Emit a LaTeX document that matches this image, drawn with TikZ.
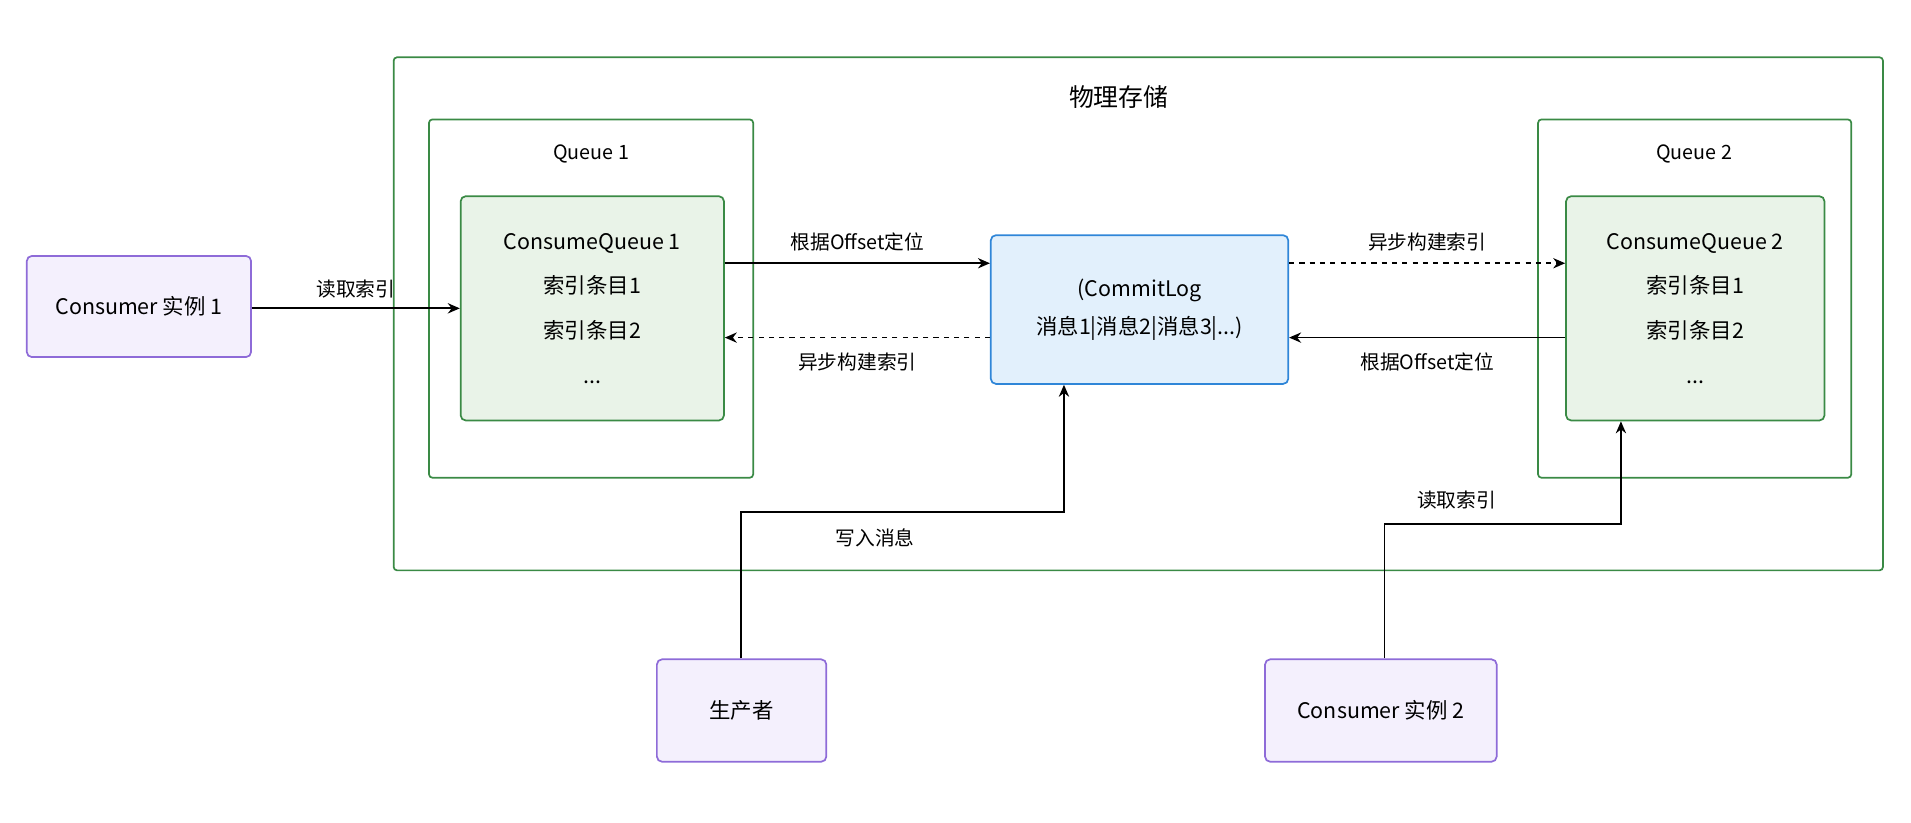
\documentclass[tikz,border=0pt]{standalone}
\usepackage{fontspec}
\setmainfont{Noto Sans CJK SC}
\usetikzlibrary{arrows.meta,positioning}
\definecolor{grnline}{HTML}{3A8A45}
\definecolor{grnfill}{HTML}{E9F3E8}
\definecolor{bluline}{HTML}{2F86D8}
\definecolor{blufill}{HTML}{E2F0FC}
\definecolor{purline}{HTML}{8E6BD8}
\definecolor{purfill}{HTML}{F4F0FD}
\tikzset{
  frame/.style={draw=grnline, line width=1pt, rounded corners=2pt},
  cqbox/.style={draw=grnline, fill=grnfill, line width=1pt, rounded corners=3pt, align=center, font=\fontsize{12.5}{26}\selectfont},
  logbox/.style={draw=bluline, fill=blufill, line width=1pt, rounded corners=3pt, align=center, font=\fontsize{12.5}{22}\selectfont},
  actor/.style={draw=purline, fill=purfill, line width=1pt, rounded corners=3pt, font=\fontsize{12.5}{15}\selectfont},
  lbl/.style={font=\fontsize{11.5}{13}\selectfont},
  link/.style={line width=1pt, -{Stealth[length=7pt,width=6pt]}},
  async/.style={link, dashed},
}
\begin{document}
\begin{tikzpicture}[x=0.025cm,y=-0.025cm]
\useasboundingbox (0,0) rectangle (1568,675);
% containers
\draw[frame] (323,47) rectangle (1545,468);
\node[font=\fontsize{14.5}{16}\selectfont] (store) at (918,80) {物理存储};
\draw[frame] (352,98) rectangle (618,392);
\node[lbl] (q1) at (485,126) {Queue 1};
\draw[frame] (1262,98) rectangle (1519,392);
\node[lbl] (q2) at (1390,126) {Queue 2};
% nodes
\node[cqbox, minimum width=5.4cm, minimum height=4.6cm] (cq1) at (486,253) {ConsumeQueue 1\\索引条目1\\索引条目2\\...};
\node[cqbox, minimum width=5.3cm, minimum height=4.6cm] (cq2) at (1391,253) {ConsumeQueue 2\\索引条目1\\索引条目2\\...};
\node[logbox, minimum width=6.1cm, minimum height=3.05cm] (log) at (935,254) {(CommitLog\\消息1|消息2|消息3|...)};
\node[actor, minimum width=4.6cm, minimum height=2.075cm] (c1) at (114,251.5) {Consumer 实例 1};
\node[actor, minimum width=3.475cm, minimum height=2.1cm] (prod) at (608.5,583) {生产者};
\node[actor, minimum width=4.75cm, minimum height=2.1cm] (c2) at (1133,583) {Consumer 实例 2};
\coordinate (pbend) at (608,420);
\coordinate (cbend) at (1136,430);
% connectors
\draw[link] (c1.east |- 0,253) -- node[lbl, above=2pt] {读取索引} (cq1.west |- 0,253);
\draw[link] (cq1.east |- 0,216) -- node[lbl, above=3pt] {根据Offset定位} (log.west |- 0,216);
\draw[async] (log.west |- 0,277) -- node[lbl, below=5pt] {异步构建索引} (cq1.east |- 0,277);
\draw[async] (log.east |- 0,216) -- node[lbl, above=3pt] {异步构建索引} (cq2.west |- 0,216);
\draw[link] (cq2.west |- 0,277) -- node[lbl, below=5pt] {根据Offset定位} (log.east |- 0,277);
\draw[link] (prod.north -| pbend) -- (pbend) -- (pbend -| 873,0) -- (log.south -| 873,0);
\node[lbl] at (718,441) {写入消息};
\draw[link] (c2.north -| cbend) -- (cbend) -- (cbend -| 1330,0) -- (cq2.south -| 1330,0);
\node[lbl] at (1195,410) {读取索引};
\end{tikzpicture}
\end{document}
